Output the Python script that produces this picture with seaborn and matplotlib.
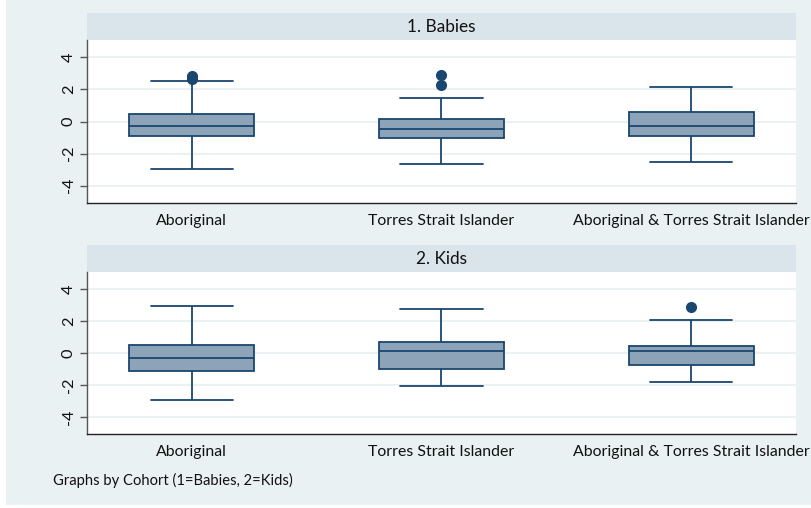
import matplotlib
matplotlib.use("Agg")
import matplotlib.pyplot as plt
from matplotlib.patches import Rectangle
import pandas as pd
import seaborn as sns

groups = ["Aboriginal", "Torres Strait Islander", "Aboriginal & Torres Strait Islander"]
cohorts = ["1. Babies", "2. Kids"]

# Box summaries: one row per cohort, one column per group
whisker_low = [[-2.98, -2.63, -2.54], [-2.92, -2.05, -1.82]]
lower_quartile = [[-0.92, -1.02, -0.92], [-1.12, -1.01, -0.76]]
medians = [[-0.29, -0.48, -0.31], [-0.33, 0.10, 0.12]]
upper_quartile = [[0.46, 0.17, 0.58], [0.52, 0.71, 0.46]]
whisker_high = [[2.52, 1.46, 2.12], [2.96, 2.73, 2.07]]
outside_values = [[[2.68, 2.84], [2.25, 2.91], []], [[], [], [2.88]]]

footnote = "Graphs by Cohort (1=Babies, 2=Kids)"
yticks = [-4, -2, 0, 2, 4]

NAVY = "#1a476f"
FILL = "#8da3b7"
STRIP = "#d9e5eb"
BG = "#eaf1f3"
GRID = "#e6eff1"


def observations(lo, q1, med, q3, hi, extra):
    """Values whose quartiles, whisker ends and outside points equal the summary."""
    n_extra = len(extra)
    run = 5
    return ([lo] * (1 + n_extra) + [q1] * run + [med] + [q3] * run + [hi]
            + list(extra))


rows = []
for c, cohort in enumerate(cohorts):
    for g, group in enumerate(groups):
        vals = observations(whisker_low[c][g], lower_quartile[c][g], medians[c][g],
                            upper_quartile[c][g], whisker_high[c][g],
                            outside_values[c][g])
        rows += [{"cohort": cohort, "group": group, "value": v} for v in vals]
df = pd.DataFrame(rows)

sns.set_theme(style="white")
plt.rcParams["font.family"] = ["Lato", "DejaVu Sans"]

W, H = 812, 508
fig = plt.figure(figsize=(W / 100, H / 100), dpi=100)
fig.patch.set_facecolor("white")
fig.patches.append(Rectangle((6 / W, 3 / H), 1 - 6 / W, 1 - 3 / H,
                             transform=fig.transFigure, facecolor=BG,
                             edgecolor="none", zorder=-10))

panel_boxes = [(40, 203), (272, 434)]  # top, bottom in pixels
strip_h = 27
left, right = 87, 796

for c, cohort in enumerate(cohorts):
    top, bottom = panel_boxes[c]
    ax = fig.add_axes([left / W, 1 - bottom / H, (right - left) / W, (bottom - top) / H])
    sub = df[df["cohort"] == cohort]
    sns.boxplot(data=sub, x="group", y="value", order=groups, ax=ax,
                width=0.5, color=FILL, saturation=1, linecolor=NAVY,
                linewidth=1.3, fliersize=7, capwidths=0.33)
    for line in ax.lines:
        if line.get_marker() not in (None, "None", ""):
            line.set_markerfacecolor(NAVY)
            line.set_markeredgecolor(NAVY)
    ax.set_facecolor("white")
    ax.set_xlim(-0.42, 2.42)
    ax.set_ylim(-5.08, 5.08)
    ax.set_yticks(yticks)
    ax.set_yticklabels([str(t) for t in yticks])
    ax.yaxis.grid(True, color=GRID, linewidth=1.2)
    ax.set_axisbelow(True)
    ax.set_xlabel("")
    ax.set_ylabel("")
    for side in ("top", "right"):
        ax.spines[side].set_visible(False)
    ax.spines["left"].set_color("#555555")
    ax.spines["left"].set_linewidth(1)
    ax.spines["bottom"].set_color("#222222")
    ax.spines["bottom"].set_linewidth(1)
    ax.tick_params(axis="y", direction="out", length=5, width=1, color="#555555",
                   labelsize=11.8, labelcolor="#111111", labelrotation=90, pad=3, left=True)
    for lab in ax.get_yticklabels():
        lab.set_va("center")
    ax.tick_params(axis="x", length=0, labelsize=11.4, labelcolor="#111111", pad=8)

    frac = strip_h / (bottom - top)
    ax.add_patch(Rectangle((0, 1), 1, frac, transform=ax.transAxes, facecolor=STRIP,
                           edgecolor="none", clip_on=False))
    ax.text(0.5, 1 + frac / 2, cohort, transform=ax.transAxes, ha="center",
            va="center", fontsize=12.4, color="#111111")

fig.text(53 / W, 1 - 480 / H, footnote, ha="left", va="center", fontsize=10.6,
         color="#111111")

fig.savefig("out.png", dpi=100, facecolor=fig.get_facecolor())
